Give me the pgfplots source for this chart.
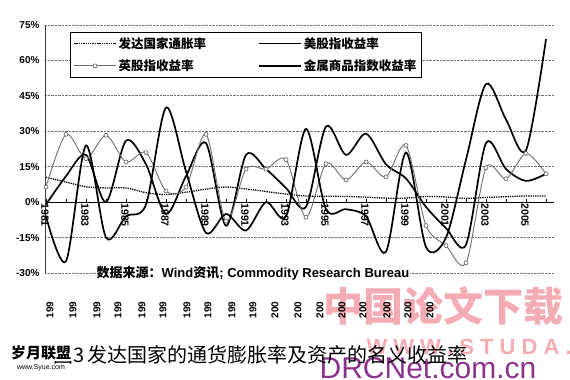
\documentclass[border=0pt]{standalone}
\usepackage{fontspec}
\setmainfont{Liberation Sans}
\newfontfamily\cjk{Noto Sans CJK SC}
\usepackage{pgfplots}
\pgfplotsset{compat=1.18}
\definecolor{wmpink}{RGB}{244,172,180}
\definecolor{wmpurple}{RGB}{140,50,140}
\definecolor{ukgray}{RGB}{110,110,110}
\begin{document}
\begin{tikzpicture}
\path[use as bounding box] (0pt,0pt) rectangle (570pt,380pt);
% watermarks (background)
\node[text=wmpink, font=\cjk\bfseries\fontsize{40}{40}\selectfont, inner sep=0pt] at (443pt,74pt) {中国论文下载};
\node[text=wmpink, font=\bfseries\fontsize{22}{22}\selectfont, inner sep=0pt, anchor=east] at (572pt,33pt) {W W W . S T U D A .};
\node[text=wmpurple, font=\fontsize{30}{30}\selectfont, inner sep=0pt, anchor=north] at (428pt,23pt) {DRCNet.com.cn};
\begin{axis}[
  at={(45pt,107pt)}, anchor=south west, scale only axis,
  width=509pt, height=248pt,
  xmin=1980.95, xmax=2006.4, ymin=-30, ymax=75,
  axis x line=middle, axis y line=left,
  axis line style={-, black, line width=0.9pt},
  y axis line style={-, black!75, line width=0.8pt},
  ytick={-30,-15,0,15,30,45,60,75},
  yticklabels={-30\%,-15\%,0\%,15\%,30\%,45\%,60\%,75\%},
  yticklabel style={font=\bfseries\fontsize{10}{10}\selectfont, xshift=-2pt},
  ytick style={draw=none},
  ymajorgrids, y grid style={densely dotted, black!55, line width=0.9pt},
  xtick={1981,1983,1985,1987,1989,1991,1993,1995,1997,1999,2001,2003,2005},
  xticklabels={1981,1983,1985,1987,1989,1991,1993,1995,1997,1999,2001,2003,2005},
  minor xtick={1982,1984,1986,1988,1990,1992,1994,1996,1998,2000,2002,2004,2006},
  xticklabel style={rotate=-90, anchor=west, font=\bfseries\fontsize{10.5}{10.5}\selectfont, inner sep=1pt, yshift=-1pt},
  hide obscured x ticks=false,
  tick align=inside,
  major tick length=3pt, minor tick length=3pt,
  xtick style={black, line width=0.6pt},
  clip=false,
  legend columns=2,
  legend cell align=left,
  legend style={at={(0.049,0.972)}, anchor=north west, draw=black, line width=0.9pt,
    font=\cjk\bfseries\fontsize{12.5}{14}\selectfont, inner sep=3pt, row sep=6pt,
    /tikz/every even column/.append style={column sep=50pt}},
  legend image code/.code={\draw[mark repeat=2, mark phase=2, #1] plot coordinates {(0pt,0pt) (21pt,0pt) (42pt,0pt)};},
]
% inflation
\addplot[black, densely dotted, line width=1.3pt, smooth] coordinates {
(1981,10.5) (1982,8.5) (1983,6.5) (1984,6.0) (1985,6.0) (1986,4.0) (1987,3.2) (1988,4.2)
(1989,5.5) (1990,6.4) (1991,5.6) (1992,4.5) (1993,3.4) (1994,2.6) (1995,2.5) (1996,2.4)
(1997,2.1) (1998,1.7) (1999,1.7) (2000,2.4) (2001,2.2) (2002,1.6) (2003,2.0) (2004,2.3)
(2005,2.6) (2006,2.6)};
\addlegendentry{发达国家通胀率}
% US stocks
\addplot[black, line width=1.7pt, smooth] coordinates {
(1981,-1) (1982,11) (1983,20) (1984,0) (1985,26) (1986,16) (1987,-5) (1988,11)
(1989,25) (1990,-10) (1991,20) (1992,14) (1993,6) (1994,-2) (1995,32) (1996,20)
(1997,29) (1998,16) (1999,10) (2000,-2) (2001,-11) (2002,-18) (2003,25) (2004,14)
(2005,9) (2006,12)};
\addlegendentry{美股指收益率}
% UK stocks
\addplot[ukgray, line width=0.9pt, smooth, mark=*, mark size=2pt, mark options={solid, fill=white, draw=ukgray, line width=0.7pt}] coordinates {
(1981,6.4) (1982,28.7) (1983,18.4) (1984,28.3) (1985,17) (1986,21) (1987,4.7) (1988,6.4)
(1989,28.7) (1990,-8) (1991,14) (1992,14) (1993,18) (1994,-6.4) (1995,16.3) (1996,9.4)
(1997,17) (1998,10.7) (1999,24) (2000,-9.9) (2001,-18.4) (2002,-25.7) (2003,14.6) (2004,9.9)
(2005,20.6) (2006,12)};
\addlegendentry{英股指收益率}
% metals commodity index
\addplot[black, line width=1.7pt, smooth] coordinates {
(1981,-6) (1982,-25) (1983,24) (1984,-15) (1985,-6) (1986,-1) (1987,40) (1988,13)
(1989,-13) (1990,-5) (1991,-12) (1992,0) (1993,-6) (1994,31) (1995,-3) (1996,-3)
(1997,-6) (1998,-21) (1999,21) (2000,-19) (2001,-15) (2002,18) (2003,50) (2004,35)
(2005,22) (2006,69)};
\addlegendentry{金属商品指数收益率}
\node[fill=white, inner sep=1pt, font=\bfseries\fontsize{13}{13}\selectfont] at (axis cs:1991.35,-30) {{\cjk\bfseries 数据来源：}Wind{\cjk\bfseries 资讯}; Commodity Research Bureau};
\end{axis}
% truncated second row of labels
\foreach \xx/\tt in {50/199,73/199,97/199,118/199,142/199,163/199,187/199,208/199,232/199,253/199,275/200,298/200,320/200,342/200,363/200,387/200,408/200,430/200}{
  \node[rotate=90, font=\bfseries\fontsize{10}{10}\selectfont, inner sep=0pt] at (\xx pt,70pt) {\tt};
}
% caption
\node[anchor=west, inner sep=0pt, font=\cjk\fontsize{20}{20}\selectfont] at (53pt,25pt) {图3\,发达国家的通货膨胀率及资产的名义收益率};
\node[inner sep=1pt, fill=white, font=\cjk\bfseries\fontsize{15}{15}\selectfont] at (41pt,27pt) {岁月联盟};
\node[inner sep=0pt, font=\fontsize{7}{7}\selectfont] at (41pt,12pt) {www.Syue.com};
\end{tikzpicture}
\end{document}
